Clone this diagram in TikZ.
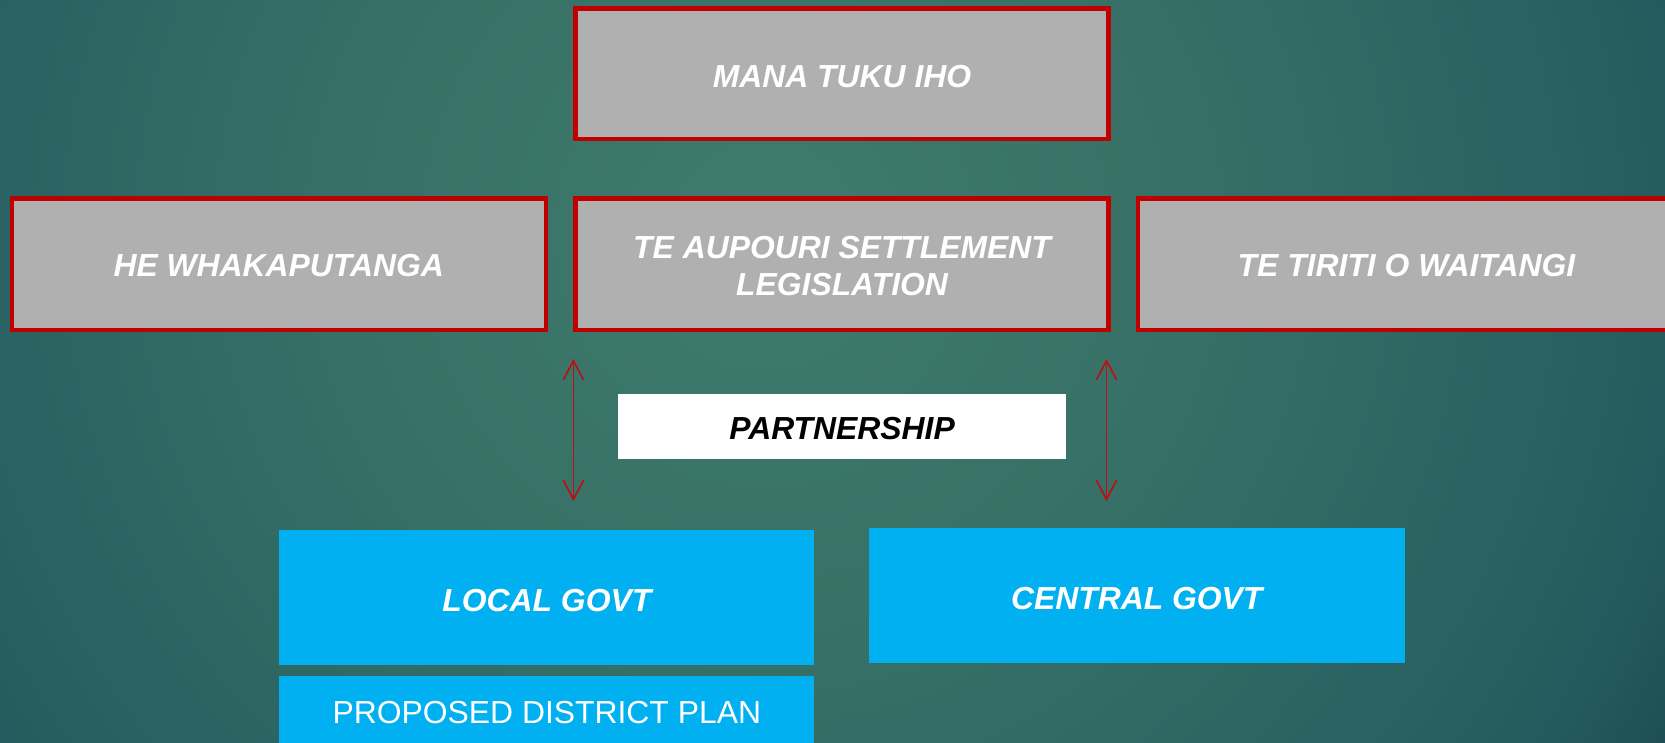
\documentclass[tikz,border=0pt]{standalone}
\usepackage{fontspec}
\setmainfont{Liberation Sans}
\usetikzlibrary{arrows.meta}
\definecolor{bgc0}{HTML}{3F7B6E}
\definecolor{bgc1}{HTML}{377066}
\definecolor{bgc2}{HTML}{2B6262}
\definecolor{bgc3}{HTML}{245A5D}
\definecolor{bgc4}{HTML}{1C4B55}
\definecolor{boxred}{HTML}{C00000}
\definecolor{boxgrey}{HTML}{B0B0B0}
\definecolor{govblue}{HTML}{00B0F0}
\definecolor{arrred}{HTML}{B81212}
\pgfdeclareradialshading{bgshade}{\pgfpoint{0bp}{0bp}}{color(0bp)=(bgc0); color(10bp)=(bgc1); color(18bp)=(bgc2); color(22bp)=(bgc3); color(25bp)=(bgc4); color(50bp)=(bgc4)}
\tikzset{
  greybox/.style={draw=boxred, line width=4pt, fill=boxgrey, inner sep=0pt,
    text=white, font=\fontsize{30}{35}\selectfont\bfseries\itshape, align=center},
  bluebox/.style={fill=govblue, draw=none, inner sep=0pt, text=white,
    font=\fontsize{30}{35}\selectfont\bfseries\itshape, align=center},
  partbox/.style={fill=white, draw=none, inner sep=0pt, text=black,
    font=\fontsize{30}{35}\selectfont\bfseries\itshape},
  linkarrow/.style={draw=arrred, line width=1.6pt,
    {Straight Barb[length=18pt,width=19pt]}-{Straight Barb[length=18pt,width=19pt]}}
}
\begin{document}
\begin{tikzpicture}[x=1pt,y=-1pt]
\useasboundingbox (0,0) rectangle (1568,699);
\begin{scope}
\clip (0,0) rectangle (1568,699);
\shade[shading=bgshade] (720,220) circle (1000);
\end{scope}
% top
\node[greybox, minimum width=502pt, minimum height=123pt, text height=25.5pt, text depth=0pt] (mana) at (793,69.5) {MANA TUKU IHO};
% row 2
\node[greybox, minimum width=503pt, minimum height=124pt, text height=23.5pt, text depth=0pt] (he) at (262.5,249) {HE WHAKAPUTANGA};
\node[greybox, minimum width=502pt, minimum height=124pt] (aup) at (793,249) {\rule{0pt}{24.5pt}TE AUPOURI SETTLEMENT\\LEGISLATION};
\node[greybox, minimum width=520pt, minimum height=124pt, text height=23.5pt, text depth=0pt] (tiriti) at (1332,249) {\hspace*{-15pt}TE TIRITI O WAITANGI};
% partnership
\node[partbox, minimum width=422pt, minimum height=61pt, text height=25.5pt, text depth=0pt] (part) at (793,401.5) {PARTNERSHIP};
% arrows
\coordinate (la1) at (540,338);
\coordinate (la2) at (540,472);
\coordinate (ra1) at (1042,338);
\coordinate (ra2) at (1042,472);
\draw[linkarrow] (la1) -- (la2);
\draw[linkarrow] (ra1) -- (ra2);
% govt
\node[bluebox, minimum width=504pt, minimum height=127pt, text height=27.5pt, text depth=0pt] (local) at (515,562.5) {LOCAL GOVT};
\node[bluebox, minimum width=505pt, minimum height=127pt, text height=27.5pt, text depth=0pt] (central) at (1070.5,560.5) {CENTRAL GOVT};
\node[bluebox, minimum width=504pt, minimum height=70pt, text height=21.5pt, text depth=2pt, font=\fontsize{30}{35}\selectfont] (plan) at (515,672) {PROPOSED DISTRICT PLAN};
\end{tikzpicture}
\end{document}
